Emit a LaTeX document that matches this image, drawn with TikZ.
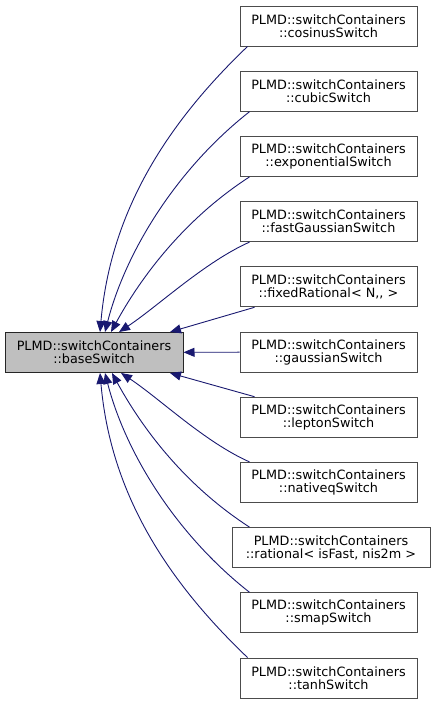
\documentclass[tikz,border=0pt]{standalone}
\usepackage{fontspec}
\setmainfont{DejaVu Sans}
\usepackage{tikz}
\usetikzlibrary{arrows.meta,positioning,calc}
\definecolor{edgeblue}{HTML}{191970}
\definecolor{basegray}{HTML}{BFBFBF}

\begin{document}
\begin{tikzpicture}[
    x=1pt, y=-1pt,
    box/.style={draw=black!70, line width=1pt, minimum width=177pt, minimum height=40pt, inner sep=0pt, align=center, font=\fontsize{12.8}{13}\selectfont},
    basebox/.style={box, draw=black!85, fill=basegray, minimum width=178pt},
    arr/.style={-{Triangle[length=11pt,width=9pt]}, edgeblue, line width=0.9pt}
]
\useasboundingbox (0,0) rectangle (432,705);

\node[basebox] (base) at (94,352.5) {PLMD::switchContainers\\::baseSwitch};

\node[box] (cosinus) at (328.5,26) {PLMD::switchContainers\\::cosinusSwitch};
\node[box] (cubic) at (328.5,91.2) {PLMD::switchContainers\\::cubicSwitch};
\node[box] (expo) at (328.5,156.4) {PLMD::switchContainers\\::exponentialSwitch};
\node[box] (fastgauss) at (328.5,221.6) {PLMD::switchContainers\\::fastGaussianSwitch};
\node[box] (fixedrat) at (328.5,286.8) {PLMD::switchContainers\\::fixedRational< N,\kern0pt, >};
\node[box] (gauss) at (328.5,352) {PLMD::switchContainers\\::gaussianSwitch};
\node[box] (lepton) at (328.5,417.2) {PLMD::switchContainers\\::leptonSwitch};
\node[box] (nativeq) at (328.5,482.4) {PLMD::switchContainers\\::nativeqSwitch};
\node[box, minimum width=198pt] (rational) at (331,547.6) {PLMD::switchContainers\\::rational< isFast, nis2m >};
\node[box] (smap) at (328.5,612.8) {PLMD::switchContainers\\::smapSwitch};
\node[box] (tanh) at (328.5,678) {PLMD::switchContainers\\::tanhSwitch};

% edges above the base class
\draw[arr] ([xshift=8]cosinus.south west) .. controls +(-88,84) and +(10,-113) .. ([xshift=6]base.north);
\draw[arr] ([xshift=10]cubic.south west) .. controls +(-75,59) and +(20,-78) .. ([xshift=11]base.north);
\draw[arr] ([xshift=10]expo.south west) .. controls +(-65,42) and +(30,-55) .. ([xshift=17]base.north);
\draw[arr] ([xshift=10]fastgauss.south west) .. controls +(-45,20) and +(38,-25) .. ([xshift=25]base.north);
\draw[arr] ([xshift=15]fixedrat.south west) -- ([xshift=76]base.north);
\draw[arr] (gauss) -- (base);
% edges below the base class
\draw[arr] ([xshift=15]lepton.north west) -- ([xshift=76]base.south);
\draw[arr] ([xshift=10]nativeq.north west) .. controls +(-45,-20) and +(38,25) .. ([xshift=27]base.south);
\draw[arr] ([xshift=18]rational.north west) .. controls +(-65,-42) and +(30,55) .. ([xshift=18]base.south);
\draw[arr] ([xshift=10]smap.north west) .. controls +(-75,-59) and +(20,78) .. ([xshift=11]base.south);
\draw[arr] ([xshift=8]tanh.north west) .. controls +(-88,-84) and +(10,113) .. ([xshift=6]base.south);
\end{tikzpicture}
\end{document}
